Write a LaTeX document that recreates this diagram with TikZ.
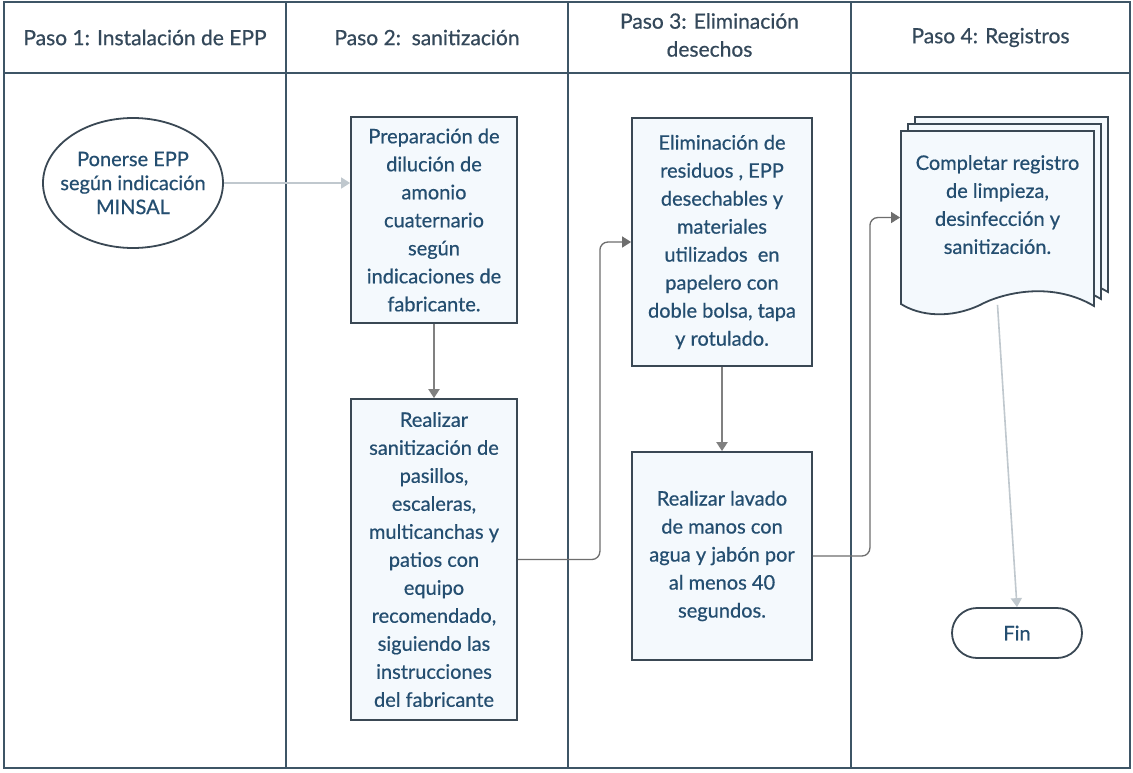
\documentclass[tikz,border=0pt]{standalone}
\usepackage{fontspec}
\setmainfont{Lato}[FakeBold=0.6]
\usepackage{tikz}
\usetikzlibrary{shapes.geometric, arrows.meta}
\definecolor{laneline}{RGB}{62,85,102}
\definecolor{boxline}{RGB}{58,72,84}
\definecolor{boxfill}{RGB}{244,249,253}
\definecolor{txtblue}{RGB}{36,78,112}
\definecolor{headtxt}{RGB}{52,72,90}
\definecolor{arrlight}{RGB}{192,200,206}
\definecolor{arrmid}{RGB}{128,128,128}
\definecolor{arrdark}{RGB}{110,110,110}

\begin{document}
\begin{tikzpicture}[x=1pt,y=-1pt,
  lanetxt/.style={align=center, text=headtxt, font=\fontsize{21}{28}\selectfont},
  stepbox/.style={draw=boxline, fill=boxfill, line width=1.8pt, align=center, text=txtblue, inner sep=0pt, font=\fontsize{20}{28}\selectfont},
  flowarrow/.style={-{Triangle[length=9pt,width=11pt]}, line width=2pt, draw=arrmid},
  flowlink/.style={-{Triangle[length=9pt,width=11pt]}, line width=1.3pt, draw=arrdark, rounded corners=8pt}]
\useasboundingbox (0,0) rectangle (1133,772);
\fill[white] (0,0) rectangle (1133,772);
\draw[line width=2pt, draw=laneline] (4,2) rectangle (1130,768);
\draw[line width=2pt, draw=laneline] (4,73) -- (1130,73);
\foreach \lx in {286,568,851}
  \draw[line width=2pt, draw=laneline] (\lx,2) -- (\lx,768);
\node[lanetxt] (paso1) at (145,37.5) {Paso 1: Instalación de EPP};
\node[lanetxt] (paso2) at (427,37.5) {Paso 2:\ \ sanitización};
\node[lanetxt] (paso3) at (709.5,35) {Paso 3: Eliminación\\desechos};
\node[lanetxt] (paso4) at (990.5,37.5) {Paso 4: Registros};
\node[stepbox, ellipse, fill=white, inner xsep=-13pt, minimum width=180pt, minimum height=130pt, font=\fontsize{20}{24}\selectfont] (ponerse) at (133,183) {Ponerse EPP\\según indicación\\MINSAL};
\node[stepbox, minimum width=166pt, minimum height=206pt] (prep) at (434,220) {Preparación de\\dilución de\\amonio\\cuaternario\\según\\indicaciones de\\fabricante.};
\node[stepbox, minimum width=166pt, minimum height=321pt] (sani) at (434,559.5) {Realizar\\sanitización de\\pasillos,\\escaleras,\\multicanchas y\\patios con\\equipo\\recomendado,\\siguiendo las\\instrucciones\\del fabricante};
\node[stepbox, minimum width=180pt, minimum height=248pt] (elim) at (722,242) {Eliminación de\\residuos , EPP\\desechables y\\materiales\\utilizados\ \ en\\papelero con\\doble bolsa, tapa\\y rotulado.};
\node[stepbox, minimum width=180pt, minimum height=208pt] (lav) at (722,556) {Realizar lavado\\de manos con\\agua y jabón por\\al menos 40\\segundos.};
\foreach \d in {14,7,0}
  \filldraw[fill=boxfill, draw=boxline, line width=1.8pt, shift={(\d,-\d)}] (901,131) -- (1094,131) -- (1094,306) .. controls (1050,280) and (1000,294) .. (980,305) .. controls (950,319) and (920,316) .. (901,304) -- cycle;
\node[stepbox, draw=none, fill=none, minimum width=193pt, minimum height=173pt] (reg) at (997.5,217.5) {Completar registro\\de limpieza,\\desinfección y\\sanitización.\rule[-26pt]{0pt}{1pt}};
\node[stepbox, fill=white, rounded corners=25pt, minimum width=130pt, minimum height=50pt] (fin) at (1017,633) {Fin};
\draw[flowarrow, draw=arrlight, line width=1.6pt] (ponerse.east) -- (ponerse.east -| prep.west);
\draw[flowarrow] (prep.south) -- (sani.north);
\draw[flowlink] (sani.east) -- ++(82,0) |- (elim.west);
\draw[flowarrow] (elim.south) -- (lav.north);
\draw[flowlink] (lav.east) -- ++(57,0) |- (reg.west);
\draw[flowarrow, draw=arrlight, line width=1.6pt] (reg.south) -- (fin.north);
\end{tikzpicture}
\end{document}
